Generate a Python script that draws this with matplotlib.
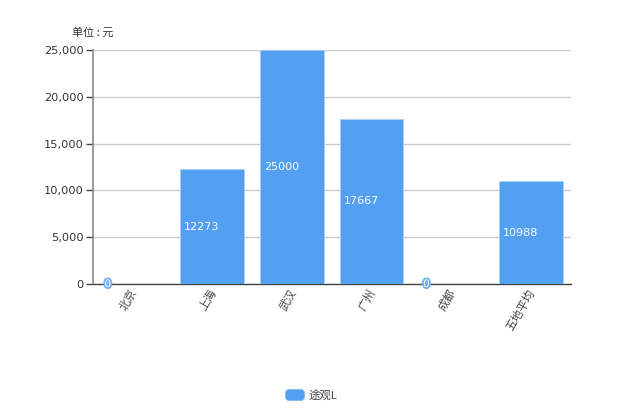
import matplotlib
matplotlib.use("Agg")
import matplotlib.pyplot as plt
import matplotlib.patheffects as pe
from matplotlib.patches import FancyBboxPatch
from matplotlib.transforms import ScaledTranslation
from matplotlib.ticker import FuncFormatter

plt.rcParams['font.family'] = ['Noto Sans CJK SC', 'DejaVu Sans']

categories = ['北京', '上海', '武汉', '广州', '成都', '五地平均']
values = [0, 12273, 25000, 17667, 0, 10988]
yticks = [0, 5000, 10000, 15000, 20000, 25000]
series_name = '途观L'
unit_label = '单位 : 元'

BLUE = '#53a0f2'
W, H = 620, 413

fig = plt.figure(figsize=(W / 100, H / 100), dpi=100)
ax = fig.add_axes([92.6 / W, 1 - 284 / H, 478 / W, 234 / H])

x = range(len(categories))
ax.bar(x, values, width=0.8, color=BLUE, edgecolor='#a9cff8', linewidth=0.6, zorder=3)
ax.set_xlim(-0.5, 5.5)
ax.set_ylim(0, 25000)

# labels sit inside the bar on the left, halfway up
for i, v in zip(x, values):
    if v == 0:
        ax.text(i - 0.4 + 0.09, 0, str(v), color='white', fontsize=7.5, family='DejaVu Sans',
                ha='center', va='center', zorder=5, clip_on=False,
                path_effects=[pe.withStroke(linewidth=2.6, foreground='#6fb0f5')])
    else:
        ax.text(i - 0.35, v / 2, str(v), color='white', fontsize=8, family='DejaVu Sans',
                ha='left', va='center', zorder=5)

ax.set_yticks(yticks)
ax.yaxis.set_major_formatter(FuncFormatter(lambda v, p: f'{int(v):,}'))
ax.set_xticks(list(x))
ax.set_xticklabels(categories, rotation=60, ha='right', va='top', rotation_mode='anchor',
                   fontsize=8.2, color='#444444')
ax.tick_params(axis='x', length=0, pad=2.5)
ax.tick_params(axis='y', length=5, width=1, color='#444444', labelsize=8.2, labelcolor='#333333', pad=1.5)
for lab in ax.get_yticklabels():
    lab.set_family('DejaVu Sans')
# nudge the rotated labels left to sit where the reference has them
shift = ScaledTranslation(-3 / 100, 0, fig.dpi_scale_trans)
for lab in ax.get_xticklabels():
    lab.set_transform(lab.get_transform() + shift)

ax.grid(axis='y', color='#cccccc', linewidth=1, zorder=0)
ax.spines['top'].set_visible(False)
ax.spines['right'].set_visible(False)
ax.spines['left'].set_color('#8a8a8a')
ax.spines['left'].set_linewidth(1.2)
ax.spines['bottom'].set_color('#444444')
ax.spines['bottom'].set_linewidth(1)

fig.text(72 / W, 1 - 32 / H, unit_label, fontsize=8, color='#333333', ha='left', va='center')

# legend, drawn by hand so the swatch can be rounded (display pixels)
swatch = FancyBboxPatch((286, H - 400), 18, 10, boxstyle='round,pad=0,rounding_size=3',
                        transform=None, facecolor=BLUE, edgecolor=BLUE, linewidth=1)
fig.add_artist(swatch)
fig.text(309 / W, 1 - 395 / H, series_name, fontsize=8.2, color='#444444', ha='left', va='center')

fig.savefig('out.png', dpi=100)
